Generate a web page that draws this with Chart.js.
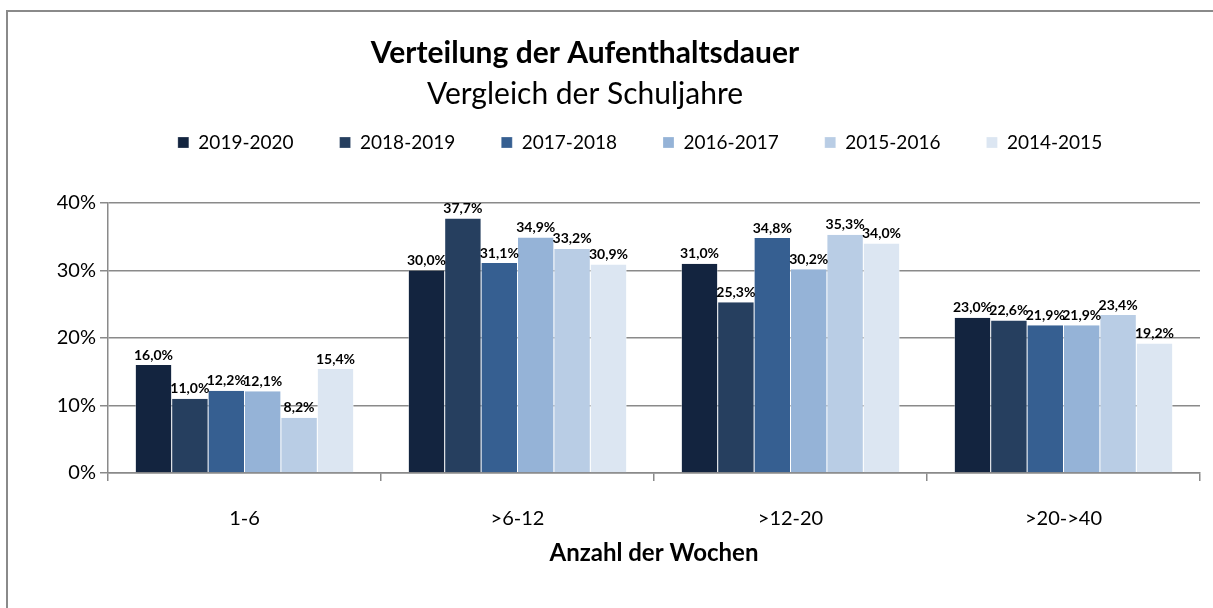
<!DOCTYPE html>
<html>
<head>
<meta charset="utf-8">
<script src="https://cdn.jsdelivr.net/npm/chart.js@4.4.1/dist/chart.umd.min.js"></script>
<style>
  html, body { margin: 0; padding: 0; background: #fff; }
  #wrap { position: relative; width: 1213px; height: 608px; }
</style>
</head>
<body>
<div id="wrap"><canvas id="myChart" width="1213" height="608"></canvas></div>
<script>
// data
const categories = ['1-6', '>6-12', '>12-20', '>20->40'];
const seriesNames = ['2019-2020', '2018-2019', '2017-2018', '2016-2017', '2015-2016', '2014-2015'];
const s2019 = [16.0, 30.0, 31.0, 23.0];
const s2018 = [11.0, 37.7, 25.3, 22.6];
const s2017 = [12.2, 31.1, 34.8, 21.9];
const s2016 = [12.1, 34.9, 30.2, 21.9];
const s2015 = [8.2, 33.2, 35.3, 23.4];
const s2014 = [15.4, 30.9, 34.0, 19.2];
const yTicks = [0, 10, 20, 30, 40];
const titleText = 'Verteilung der Aufenthaltsdauer';
const subtitleText = 'Vergleich der Schuljahre';
const colors = ['#13243f', '#263f5f', '#365f91', '#95b3d7', '#b9cde5', '#dce6f2'];

const FONT = 'Lato, "Open Sans", sans-serif';
const allSeries = [s2019, s2018, s2017, s2016, s2015, s2014];

// value labels above the bars
const valueLabels = {
  id: 'valueLabels',
  afterDatasetsDraw(chart) {
    const ctx = chart.ctx;
    ctx.save();
    ctx.font = 'bold 14px ' + FONT;
    ctx.fillStyle = '#000';
    ctx.textAlign = 'center';
    ctx.textBaseline = 'bottom';
    chart.data.datasets.forEach((ds, i) => {
      chart.getDatasetMeta(i).data.forEach((bar, j) => {
        const txt = ds.data[j].toFixed(1).replace('.', ',') + '%';
        ctx.fillText(txt, bar.x, bar.y - 3);
      });
    });
    ctx.restore();
  }
};

// frame + two-line heading
const frame = {
  id: 'frame',
  beforeDraw(chart) {
    const ctx = chart.ctx;
    ctx.save();
    ctx.strokeStyle = '#8a8a8a';
    ctx.lineWidth = 2;
    ctx.beginPath();
    ctx.moveTo(7, 608);
    ctx.lineTo(7, 11);
    ctx.lineTo(1213, 11);
    ctx.stroke();
    ctx.fillStyle = '#000';
    ctx.textAlign = 'center';
    ctx.textBaseline = 'middle';
    ctx.font = 'bold 30px ' + FONT;
    ctx.fillText(titleText, 585, 53);
    ctx.font = '30px ' + FONT;
    ctx.fillText(subtitleText, 585, 94);
    ctx.restore();
  }
};

// legend height / position tweaks
const legendTweak = {
  id: 'legendTweak',
  beforeInit(chart) {
    const fit = chart.legend.fit;
    chart.legend.fit = function () {
      fit.call(this);
      this.height = 116;
    };
  },
  afterLayout(chart) {
    chart.legend.left += 34;
    chart.legend.right += 34;
  }
};

const data = {
  labels: categories,
  datasets: allSeries.map((s, i) => ({
    label: seriesNames[i],
    data: s,
    backgroundColor: colors[i],
    borderColor: '#ffffff',
    borderWidth: { left: 0.5, right: 0.5, top: 0, bottom: 0 },
    categoryPercentage: 0.8,
    barPercentage: 1.0
  }))
};

const config = {
  type: 'bar',
  data: data,
  options: {
    responsive: false,
    animation: false,
    layout: { padding: { left: 12, right: 13, top: 87, bottom: 40 } },
    plugins: {
      title: { display: false },
      legend: {
        position: 'top',
        labels: {
          color: '#000',
          font: { family: FONT, size: 19 },
          boxWidth: 11,
          boxHeight: 11,
          padding: 46
        }
      },
      tooltip: { enabled: false }
    },
    scales: {
      x: {
        grid: { display: true, drawOnChartArea: false, offset: true, tickLength: 8, color: '#8a8a8a', lineWidth: 1.5 },
        border: { color: '#8a8a8a', width: 1.5 },
        ticks: { color: '#000', font: { family: FONT, size: 20 }, padding: 26 },
        title: {
          display: true,
          text: 'Anzahl der Wochen',
          color: '#000',
          font: { family: FONT, size: 24, weight: 'bold' },
          padding: { top: 4, bottom: 0 }
        },
        afterFit(scale) { scale.height = 95; }
      },
      y: {
        min: yTicks[0],
        max: yTicks[yTicks.length - 1],
        afterBuildTicks(scale) { scale.ticks = yTicks.map(v => ({ value: v })); },
        ticks: { color: '#000', font: { family: FONT, size: 20 }, padding: 4,
          callback: v => v + '%' },
        grid: { color: '#8a8a8a', lineWidth: 1.5, tickLength: 8 },
        border: { color: '#8a8a8a', width: 1.5 },
        afterFit(scale) { scale.width = 96; }
      }
    }
  },
  plugins: [frame, legendTweak, valueLabels]
};

var myChart = new Chart(document.getElementById('myChart'), config);
</script>
</body>
</html>
